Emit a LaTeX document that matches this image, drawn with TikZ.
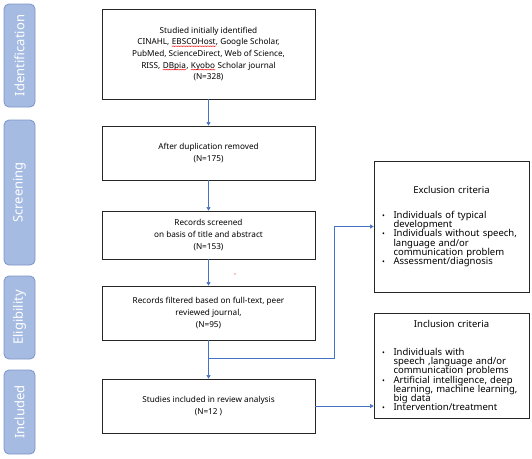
\documentclass[tikz,border=0pt]{standalone}
\usepackage{fontspec}
\setmainfont{Noto Sans}
\usetikzlibrary{arrows.meta,positioning,decorations.pathmorphing}

\definecolor{stagefill}{RGB}{166,187,226}
\definecolor{stageline}{RGB}{124,149,199}
\definecolor{flowblue}{RGB}{68,114,196}

\newcommand{\critfont}{\fontsize{9.5}{9.3}\selectfont\lineskiplimit=-6pt\relax}
\newcommand{\critem}[1]{\par\hangindent=12pt\hangafter=1\noindent
  \makebox[12pt][l]{\hspace{0.5pt}{\fontsize{7.5}{7.5}\selectfont\textbullet}}#1}
\newcommand{\nl}{\hfil\break}
\newcommand{\spellmark}[1]{\tikz[x=1pt,y=1pt,baseline=(w.base)]{%
  \node[draw=none, inner sep=0pt, minimum width=0pt, minimum height=0pt] (w) {#1};
  \draw[red, line width=0.3pt, decorate, decoration={zigzag, amplitude=0.45pt, segment length=1.6pt}]
    ([yshift=-1.4pt]w.base west) -- ([yshift=-1.4pt]w.base east);}}

\begin{document}
\begin{tikzpicture}[x=1pt, y=-1pt,
    stage/.style={rounded corners=5pt, draw=stageline, fill=stagefill, line width=0.8pt,
                  rotate=90, text=white, inner sep=0pt, minimum height=31pt,
                  font=\fontsize{13}{13}\selectfont},
    flowbox/.style={draw=black!85, line width=0.8pt, minimum width=213pt, inner sep=0pt,
                    align=center, font=\fontsize{8.2}{11.7}\selectfont},
    critbox/.style={draw=black!85, line width=0.8pt, minimum width=155pt, text width=140pt,
                    inner xsep=7.5pt, inner ysep=0pt, align=left, font=\critfont},
    arr/.style={draw=flowblue, line width=0.6pt, -{Triangle[width=4pt,length=3.5pt]}}]

  \useasboundingbox (0,0) rectangle (532,458);

  % stage labels
  \node[stage, minimum width=103pt] (ident)  at (19.5,55.5)  {Identification};
  \node[stage, minimum width=145pt] (screen) at (19.5,192.5) {Screening};
  \node[stage, minimum width=83pt]  (elig)   at (19.5,317.5) {Eligibility};
  \node[stage, minimum width=84pt]  (incl)   at (19.5,412)   {Included};

  % main flow
  \node[flowbox, minimum height=90pt] (found) at (208.5,54)
    {Studied initially identified\\
     CINAHL, \spellmark{EBSCOHost}, Google Scholar,\\
     PubMed, ScienceDirect, Web of Science,\\
     RISS, \spellmark{DBpia}, \spellmark{Kyobo} Scholar journal\\
     (N=328)};
  \node[flowbox, minimum height=54pt] (dedup) at (208.5,153)
    {After duplication removed\\(N=175)};
  \node[flowbox, minimum height=48pt] (screened) at (208.5,235)
    {Records screened\\on basis of title and abstract\\(N=153)};
  \node[flowbox, minimum height=54pt] (filtered) at (208.5,313)
    {Records filtered based on full-text, peer\\reviewed journal,\\(N=95)};
  \node[flowbox, minimum height=54pt] (studies) at (208.5,406)
    {Studies included in review analysis\\(N=12 )};

  % criteria
  \node[critbox, minimum height=131pt] (exclcrit) at (451.5,226.5)
    {{\centering Exclusion criteria\par}\vspace{15.6pt}%
     \critem{\mbox{Individuals of typical}\nl development}%
     \critem{\mbox{Individuals without speech,}\nl language and/or\nl \mbox{communication problem}}%
     \critem{Assessment/diagnosis}\par\vspace*{16pt}};
  \node[critbox, minimum height=105pt] (inclcrit) at (451.5,365.5)
    {\vspace*{11pt}{\centering Inclusion criteria\par}\vspace{7.6pt}%
     \critem{Individuals with\nl \mbox{speech ,language and/or}\nl \mbox{communication problems}}%
     \critem{\mbox{Artificial intelligence, deep}\nl \mbox{learning, machine learning,}\nl big data}%
     \critem{Intervention/treatment}\par};

  \draw[arr] (found) -- (dedup);
  \draw[arr] (dedup) -- (screened);
  \draw[arr] (screened) -- (filtered);
  \draw[arr] (filtered) -- (studies);

  \coordinate (split) at (208.5,358);
  \coordinate (turn) at (334,358);
  \draw[arr] (split) -- (turn) |- (exclcrit.west);
  \draw[arr] (studies.east) -- (studies.east -| inclcrit.west);

  \fill[red] (235,274) circle (0.7pt);
\end{tikzpicture}
\end{document}
